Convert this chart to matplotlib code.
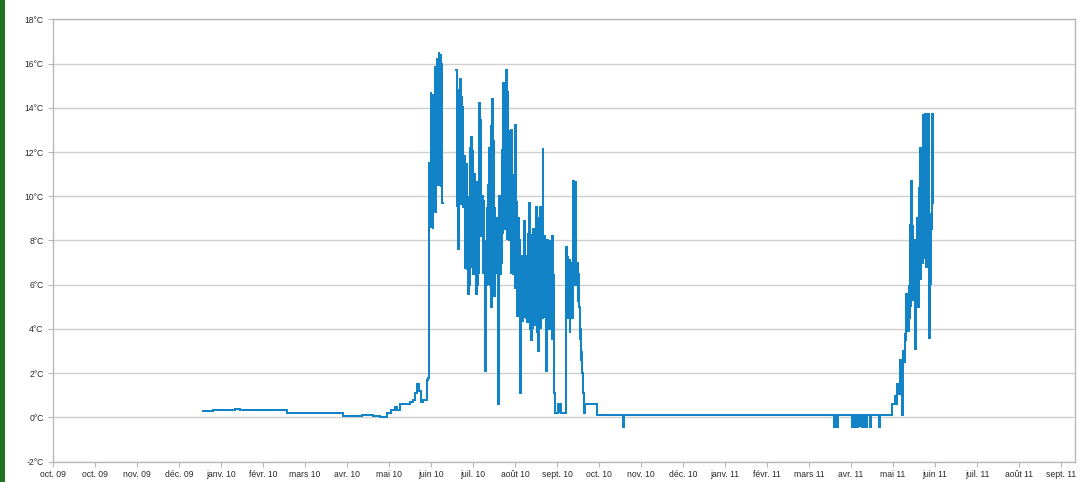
import numpy as np
import matplotlib
matplotlib.use('Agg')
import matplotlib.pyplot as plt
from matplotlib.patches import Rectangle

# ---------------- data ----------------
# x axis in days since 2009-10-01, ticks every 30 days (as in the source chart)
axis_span_days = 730
tick_step_days = 30
tick_labels = ['oct. 09', 'oct. 09', 'nov. 09', 'déc. 09', 'janv. 10', 'févr. 10',
               'mars 10', 'avr. 10', 'mai 10', 'juin 10', 'juil. 10', 'août 10',
               'sept. 10', 'oct. 10', 'nov. 10', 'déc. 10', 'janv. 11', 'févr. 11',
               'mars 11', 'avr. 11', 'mai 11', 'juin 11', 'juil. 11', 'août 11',
               'sept. 11']
y_ticks = [-2, 0, 2, 4, 6, 8, 10, 12, 14, 16, 18]
y_tick_labels = ['-2°C', '0°C', '2°C', '4°C', '6°C', '8°C', '10°C', '12°C',
                 '14°C', '16°C', '18°C']

# logger sampling interval in the busy periods (days)
sample_interval = 0.475

# calm period, winter/spring 2010 (step changes)
calm_2010_days = [107.1, 114.3, 130.0, 133.6, 146.4, 167.1, 187.0, 190.0, 193.0,
                  196.0, 199.3, 207.1, 220.7, 228.6, 233.6, 238.6, 241.4, 244.3,
                  245.7, 247.9, 255.0, 257.1, 258.6, 260.0, 261.4, 262.9, 264.3,
                  266.9]
calm_2010_temps = [0.27, 0.35, 0.38, 0.35, 0.35, 0.21, 0.19, 0.21, 0.19,
                   0.21, 0.18, 0.05, 0.12, 0.08, 0.02, 0.19, 0.35, 0.47,
                   0.32, 0.63, 0.70, 0.80, 1.10, 1.53, 1.20, 0.70, 0.77,
                   1.70]

# first warm burst, June 2010
burst1_start = 267.9
burst1_temps = [1.8, 5.0, 11.5, 8.6, 14.7, 9.0, 13.5, 8.5, 14.6, 10.4, 15.9,
                9.3, 15.0, 10.8, 16.2, 10.5, 16.5, 11.0, 16.4, 10.4, 16.0, 9.7]

# missing data between the two bursts
gap_day = 278.9

# main warm period, July - September 2010
burst2_start = 287.9
burst2_temps = [
    15.7, 9.5, 14.8, 7.6, 13.0,
    10.1, 15.3, 9.6, 14.5, 10.0,
    14.1, 9.5, 11.8, 6.7, 10.5,
    7.0, 11.5, 6.7, 5.6, 10.0,
    6.0, 12.2, 7.5, 12.7, 6.8,
    12.1, 6.5, 11.0, 7.0, 9.5,
    5.6, 10.7, 6.0, 9.0, 6.5,
    14.2, 8.2, 13.5, 8.5, 10.0,
    6.5, 9.8, 7.0, 8.0, 2.1,
    6.0, 9.5, 6.5, 10.5, 6.0,
    12.2, 6.0, 13.2, 5.0, 14.4,
    6.0, 12.5, 5.5, 9.5, 7.0,
    9.0, 6.5, 8.0, 0.6, 7.0,
    10.0, 6.5, 9.5, 7.0, 12.1,
    8.3, 15.1, 8.5, 14.7, 9.0,
    15.7, 8.0, 14.7, 9.0, 13.0,
    8.0, 11.3, 6.5, 13.0, 7.0,
    11.0, 6.5, 10.0, 5.8, 13.2,
    6.0, 9.8, 4.6, 9.0, 5.0,
    8.0, 1.1, 7.0, 4.5, 7.3,
    4.3, 7.0, 8.9, 4.5, 7.3,
    4.5, 6.5, 4.3, 8.3, 5.0,
    9.7, 4.0, 8.3, 3.5, 7.5,
    4.0, 8.5, 4.5, 8.0, 4.2,
    9.5, 3.8, 9.0, 3.0, 8.0,
    4.5, 9.5, 4.0, 8.0, 4.5,
    12.2, 5.0, 8.2, 4.5, 7.5,
    2.1, 6.0, 8.0, 4.5, 7.5,
    4.0, 8.0, 5.0, 7.0, 3.5,
    8.2, 4.0, 6.5, 1.1, 0.2,
    0.2, 0.2, 0.2, 0.2, 0.6,
    0.6, 0.2, 0.6, 0.2, 0.2,
    0.2, 0.2, 0.2, 0.2, 0.2,
    3.0, 7.7, 4.5, 7.3, 5.0,
    7.1, 3.8, 7.0, 5.3, 6.5,
    4.5, 10.7, 6.0, 9.5, 6.0,
    10.7, 6.5, 7.0, 5.2, 6.5,
    5.0, 3.5, 4.0, 2.6, 3.0,
    2.0, 1.1, 0.6, 0.2, 0.6,
]

# calm period, autumn 2010 - spring 2011 (step changes)
winter_days = [388.6, 406.8, 407.5, 557.9, 558.4, 558.9, 559.4, 559.9, 560.4]
winter_temps = [0.13, -0.42, 0.13, -0.41, 0.12, -0.41, 0.12, -0.41, 0.12]

# flickering around 0 °C, April 2011
dips_2011_start = 570.7
dips_2011_temps = [-0.41, 0.12, -0.41, 0.12, -0.41, 0.12, -0.41, 0.12, -0.41, 0.12,
                   -0.41, 0.12, 0.12, -0.41, 0.12, -0.41, 0.12, -0.41, 0.12, -0.41,
                   0.12, -0.41, 0.12]
late_winter_days = [581.8, 583.6, 584.3, 590.0, 590.5]
late_winter_temps = [0.12, -0.41, 0.12, -0.41, 0.12]

# warm burst, May - June 2011
burst3_start = 599.3
burst3_temps = [
    0.6, 0.6, 0.6, 0.6, 1.0,
    0.6, 0.6, 1.05, 1.5, 1.05,
    1.5, 1.05, 2.6, 1.8, 2.0,
    0.1, 2.0, 3.0, 2.5, 3.8,
    3.5, 5.6, 4.0, 5.0, 3.9,
    6.0, 4.5, 8.7, 5.0, 10.7,
    6.0, 8.7, 5.3, 8.0, 6.0,
    3.1, 7.7, 5.5, 9.0, 5.0,
    10.4, 6.5, 12.2, 6.2, 9.0,
    7.0, 13.7, 7.2, 12.0, 8.5,
    13.7, 6.8, 11.0, 7.5, 13.7,
    7.0, 3.6, 9.2, 6.0, 8.5,
    13.7, 10.0, 9.7,
]

# ---------------- assemble series ----------------
def sampled(start, temps):
    return [start + i * sample_interval for i in range(len(temps))]

days = (calm_2010_days
        + sampled(burst1_start, burst1_temps) + [gap_day]
        + sampled(burst2_start, burst2_temps)
        + winter_days
        + sampled(dips_2011_start, dips_2011_temps)
        + late_winter_days
        + sampled(burst3_start, burst3_temps))
temps = (calm_2010_temps
         + burst1_temps + [np.nan]
         + burst2_temps
         + winter_temps
         + dips_2011_temps
         + late_winter_temps
         + burst3_temps)

# ---------------- plot ----------------
plt.rcParams['font.family'] = ['Liberation Sans', 'DejaVu Sans']
W, H = 1080, 482
fig = plt.figure(figsize=(W / 100, H / 100), dpi=100)
fig.patch.set_facecolor('white')

# green frame strip on the left edge
fig.patches.append(Rectangle((0, 0), 5 / W, 1, transform=fig.transFigure,
                             facecolor='#217321', edgecolor='none'))

left, right, top, bottom = 53, 1075, 19.3, 461.7
ax = fig.add_axes([left / W, (H - bottom) / H, (right - left) / W, (bottom - top) / H])

ax.plot(days, temps, color='#1383c8', lw=1.45, drawstyle='steps-post',
        solid_joinstyle='miter', zorder=3)

ax.set_xlim(0, axis_span_days)
ax.set_ylim(y_ticks[0], y_ticks[-1])
ax.set_xticks([i * tick_step_days for i in range(len(tick_labels))])
ax.set_xticklabels(tick_labels)
ax.set_yticks(y_ticks)
ax.set_yticklabels(y_tick_labels)

grid_c = '#cfcfcf'
spine_c = '#b8b8b8'
ax.yaxis.grid(True, color=grid_c, lw=1.0, zorder=0)
ax.xaxis.grid(False)
for s in ax.spines.values():
    s.set_color(spine_c)
    s.set_linewidth(1.0)
ax.tick_params(axis='both', colors=spine_c, length=3.6, width=0.8,
               labelcolor='#2a2a2a', labelsize=6.2)
ax.tick_params(axis='y', pad=3.2)
ax.tick_params(axis='x', pad=2.5)

fig.savefig('out.png', dpi=100)
